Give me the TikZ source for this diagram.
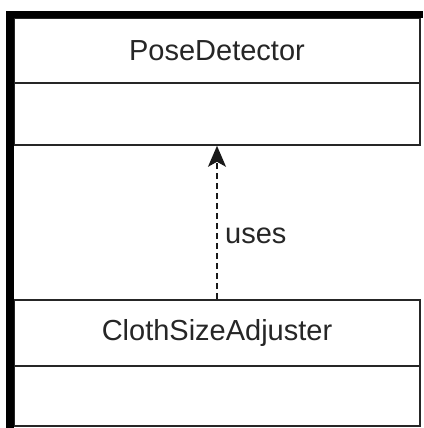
\documentclass[tikz,border=0pt]{standalone}
\usepackage{fontspec}
\setmainfont{Liberation Sans}
\usetikzlibrary{arrows.meta}
\begin{document}
\begin{tikzpicture}[x=1pt,y=-1pt,
  compartment/.style={draw=black!85, line width=1.6pt, fill=white, inner sep=0pt,
    minimum width=406pt, font=\fontsize{29}{34}\selectfont, text=black!85},
  dep/.style={draw=black!90, line width=1.6pt, dash pattern=on 6pt off 4pt,
    -{Stealth[length=21pt,width=18pt,inset=5pt]}},
  lbl/.style={font=\fontsize{29}{34}\selectfont, text=black!85, inner sep=1pt, anchor=west}]
\useasboundingbox (0,0) rectangle (423,428);
\fill[white] (0,0) rectangle (423,428);

% PoseDetector class
\node[compartment, minimum height=65pt] (poseTitle) at (217,50.5) {PoseDetector};
\node[compartment, minimum height=62pt] (poseBody) at (217,114) {};

% ClothSizeAdjuster class
\node[compartment, minimum height=66pt] (clothTitle) at (217,333) {ClothSizeAdjuster};
\node[compartment, minimum height=60pt] (clothBody) at (217,396) {};

% dependency
\draw[dep] (clothTitle.north) -- (poseBody.south);
\node[lbl] (usesLabel) at (224,236) {uses};

% heavy frame along the top and left edges
\fill[black] (6,11) rectangle (423,18);
\fill[black] (6,11) rectangle (14,428);
\end{tikzpicture}
\end{document}
